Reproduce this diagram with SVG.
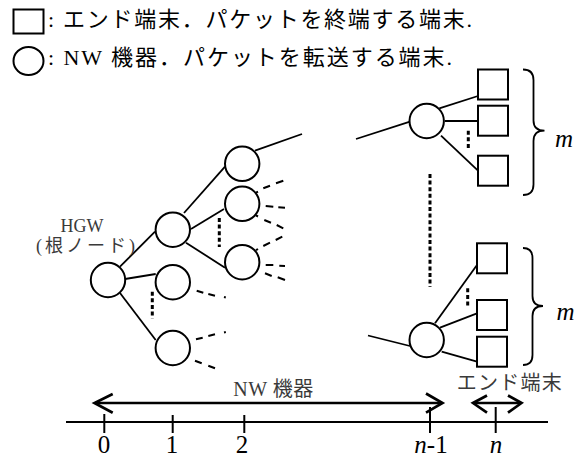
<svg xmlns="http://www.w3.org/2000/svg" width="581" height="459" viewBox="0 0 581 459">
<style>
.txt{font-family:"Liberation Serif","Noto Sans CJK JP",serif;fill:#000}
.lbl{font-family:"Liberation Serif","Noto Sans CJK JP",serif;fill:#3a3a3a}
.num{font-family:"Liberation Serif",serif;font-size:25px;fill:#000}
.it{font-style:italic}
.node{fill:#fff;stroke:#000;stroke-width:2}
.edge{stroke:#000;stroke-width:1.8;fill:none}
.stub{stroke:#000;stroke-width:2;fill:none}
.dots{stroke:#000;stroke-width:3;stroke-dasharray:4 2.6;fill:none}
.axis{stroke:#000;stroke-width:2;fill:none}
.arr{stroke:#000;stroke-width:2.7;fill:none}
.brace{stroke:#000;stroke-width:1.8;fill:none}
</style>

<g id="legend">
  <rect class="node" x="13.5" y="9.5" width="30" height="24"/>
  <ellipse class="node" cx="28.5" cy="61" rx="15" ry="14"/>
  <text class="txt" x="48" y="27" font-size="22" textLength="424" lengthAdjust="spacing">: エンド端末．パケットを終端する端末.</text>
  <text class="txt" x="48" y="64.5" font-size="22" textLength="404" lengthAdjust="spacing">: NW 機器．パケットを転送する端末.</text>
</g>

<g id="connectors">
  <line class="edge" x1="120" y1="266.7" x2="155" y2="231.7"/>
  <line class="edge" x1="125" y1="279" x2="155.7" y2="274"/>
  <line class="edge" x1="120" y1="293" x2="155.7" y2="340"/>
  <line class="edge" x1="184" y1="213" x2="225" y2="166.7"/>
  <line class="edge" x1="191" y1="229" x2="224" y2="209"/>
  <line class="edge" x1="186" y1="242.7" x2="225" y2="267.7"/>
  <line class="edge" x1="255" y1="150.7" x2="302" y2="134"/>
  <line class="edge" x1="356" y1="139" x2="410" y2="121.7"/>
  <line class="edge" x1="439.3" y1="108.3" x2="478" y2="96"/>
  <line class="edge" x1="445" y1="121" x2="478" y2="121"/>
  <line class="edge" x1="441" y1="135.7" x2="478" y2="170.7"/>
  <line class="edge" x1="368" y1="335.5" x2="410" y2="346"/>
  <line class="edge" x1="435" y1="323.3" x2="477" y2="265"/>
  <line class="edge" x1="440" y1="327.7" x2="477" y2="313.3"/>
  <line class="edge" x1="441.7" y1="351.7" x2="477" y2="361.7"/>
  <path class="stub" d="M256,192.6 L258,191.6 M263.3,188.3 L270,185.7 M276,183.3 L283.3,180.7 M265.7,206 L273.3,206.7 M278.3,207.3 L285,207.7 M256,215.4 L258,216.5 M264.3,220 L271,222.7 M276.7,225 L283.3,228.3"/>
  <path class="stub" d="M256,250.2 L258,249 M263.3,246 L270,242.7 M275.7,240 L282.3,236.7 M265.7,265 L273.3,265 M279.3,265.7 L285,266 M265,273.3 L271.7,276 M277.7,277.3 L285,280"/>
  <path class="stub" d="M196.7,290.7 L203.3,292.7 M208.3,294 L215,295.7 M224,297 L225.8,297.5"/>
  <path class="stub" d="M196,339.3 L202.7,337.7 M208.3,336 L215,334.3 M224,332.5 L225.8,332.1 M195,360.7 L201.7,363.3 M208.3,365.7 L215,368.3"/>
  <line class="dots" x1="219.3" y1="218" x2="219.3" y2="247"/>
  <line class="dots" x1="152.3" y1="291.7" x2="152.3" y2="318.3"/>
  <line class="dots" x1="468.3" y1="130.7" x2="468.3" y2="150"/>
  <line class="dots" x1="467.7" y1="288.3" x2="467.7" y2="306.7"/>
  <line class="dots" x1="430" y1="174" x2="430" y2="287"/>
</g>

<g id="hgw">
  <circle class="node" cx="108" cy="280" r="17.2"/>
  <text class="lbl" x="82" y="231.5" font-size="18" text-anchor="middle">HGW</text>
  <text class="lbl" x="36" y="251.5" font-size="18" textLength="99" lengthAdjust="spacing">(根ノード)</text>
</g>
<g id="n1a"><circle class="node" cx="172.8" cy="229.7" r="17.2"/></g>
<g id="n1b"><circle class="node" cx="172.8" cy="282.2" r="17.2"/></g>
<g id="n1c"><circle class="node" cx="172.8" cy="348" r="17.2"/></g>
<g id="n2a"><circle class="node" cx="242.2" cy="163.8" r="17.2"/></g>
<g id="n2b"><circle class="node" cx="242.2" cy="203.8" r="17.2"/></g>
<g id="n2c"><circle class="node" cx="242.2" cy="262.2" r="17.2"/></g>
<g id="nTop"><circle class="node" cx="426.7" cy="121" r="17.2"/></g>
<g id="nBot"><circle class="node" cx="426.7" cy="340" r="17.2"/></g>
<g id="eTop1"><rect class="node" x="478" y="69.5" width="30" height="30"/></g>
<g id="eTop2"><rect class="node" x="478" y="105.7" width="30" height="30"/></g>
<g id="eTop3"><rect class="node" x="478" y="155.7" width="30" height="30"/></g>
<g id="eBot1"><rect class="node" x="477" y="243.3" width="30" height="30"/></g>
<g id="eBot2"><rect class="node" x="477" y="300" width="30" height="30"/></g>
<g id="eBot3"><rect class="node" x="477" y="336.7" width="30" height="30"/></g>

<g id="braceTop">
  <path class="brace" d="M523,69.5 Q533.5,69.5 533.5,80 L533.5,120.5 Q533.5,130.7 544.5,130.7 Q533.5,130.7 533.5,141 L533.5,184.5 Q533.5,195 523,195"/>
  <text class="num it" x="555" y="146.5">m</text>
</g>
<g id="braceBot">
  <path class="brace" d="M523,248 Q532.5,248 532.5,258 L532.5,296 Q532.5,306 543,306 Q532.5,306 532.5,316 L532.5,355 Q532.5,365 523,365"/>
  <text class="num it" x="556.5" y="320">m</text>
</g>

<g id="scale">
  <line class="axis" x1="66" y1="422" x2="548" y2="422"/>
  <line class="axis" x1="104.3" y1="414" x2="104.3" y2="433"/>
  <line class="axis" x1="172.7" y1="415" x2="172.7" y2="433"/>
  <line class="axis" x1="244.3" y1="415" x2="244.3" y2="433"/>
  <line class="axis" x1="430" y1="407" x2="430" y2="433"/>
  <line class="axis" x1="495.7" y1="407" x2="495.7" y2="433"/>
  <line class="arr" x1="95" y1="403" x2="442" y2="403"/>
  <polyline class="arr" points="112.7,394 94.5,403 112.7,412.7"/>
  <polyline class="arr" points="426,393.5 442.5,403 426,412.7"/>
  <line class="arr" x1="473.5" y1="403" x2="521" y2="403"/>
  <polyline class="arr" points="487,395.5 473,403 487,412.7"/>
  <polyline class="arr" points="508,395.5 521.5,403 508,412.7"/>
  <text class="lbl" x="233.3" y="396" font-size="20" textLength="80" lengthAdjust="spacing">NW 機器</text>
  <text class="lbl" x="456.7" y="390" font-size="20" textLength="105" lengthAdjust="spacing">エンド端末</text>
  <text class="num" x="104" y="453" text-anchor="middle">0</text>
  <text class="num" x="172" y="453" text-anchor="middle">1</text>
  <text class="num" x="242" y="453" text-anchor="middle">2</text>
  <text class="num" x="431" y="453" text-anchor="middle"><tspan class="it">n</tspan>-1</text>
  <text class="num it" x="496" y="453" text-anchor="middle">n</text>
</g>
</svg>
